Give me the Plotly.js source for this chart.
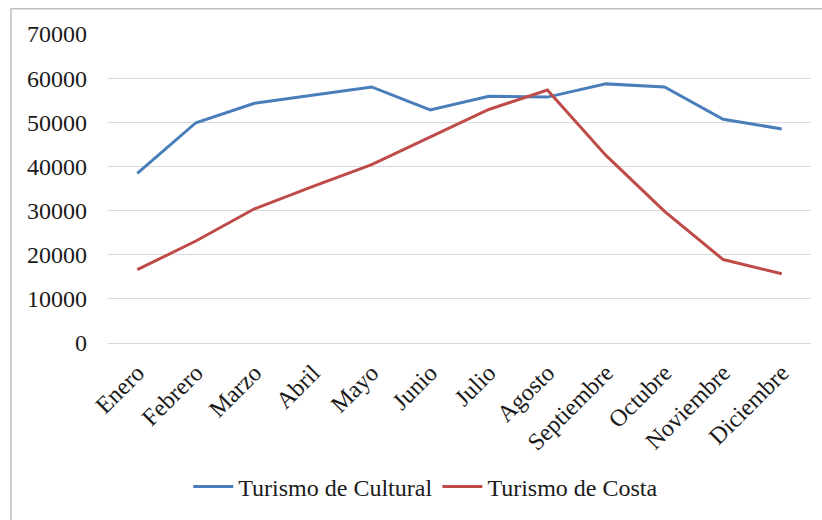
<!DOCTYPE html>
<html>
<head>
<meta charset="utf-8">
<script src="https://cdn.plot.ly/plotly-3.0.1.min.js"></script>
<style>
html, body { margin: 0; padding: 0; background: #ffffff; }
#chart { width: 822px; height: 520px; }
</style>
</head>
<body>
<div id="chart"></div>
<script>
var months = ["Enero", "Febrero", "Marzo", "Abril", "Mayo", "Junio", "Julio", "Agosto", "Septiembre", "Octubre", "Noviembre", "Diciembre"];
var cultural = [38400, 49900, 54300, 56100, 58000, 52800, 55900, 55700, 58700, 58000, 50700, 48500];
var costa = [16600, 23100, 30400, 35500, 40400, 46600, 52900, 57300, 42500, 29800, 18900, 15700];
var yTicks = [0, 10000, 20000, 30000, 40000, 50000, 60000, 70000];

var font = { family: "Liberation Serif", size: 24, color: "#1a1a1a" };

var traces = [
  { x: months, y: cultural, type: "scatter", mode: "lines", name: "Turismo de Cultural",
    line: { color: "#4A7EBB", width: 3 } },
  { x: months, y: costa, type: "scatter", mode: "lines", name: "Turismo de Costa",
    line: { color: "#BE4B48", width: 3 } }
];

var layout = {
  width: 822, height: 520,
  margin: { l: 108, r: 11, t: 34, b: 173 },
  paper_bgcolor: "#ffffff", plot_bgcolor: "#ffffff",
  font: font,
  showlegend: true,
  legend: { orientation: "h", x: 0.452, xanchor: "center", y: -0.466, yanchor: "middle",
            font: font, itemwidth: 40, tracegroupgap: 0 },
  xaxis: { type: "category", range: [-0.5, 11.5], showgrid: false, showline: false, zeroline: false,
           tickangle: -45, ticks: "", ticklabelstandoff: 10, tickfont: font, fixedrange: true },
  yaxis: { range: [0, 70000], tickvals: yTicks, ticktext: yTicks.map(String),
           showgrid: true, gridcolor: "#D9D9D9", gridwidth: 1,
           zeroline: true, zerolinecolor: "#D9D9D9", zerolinewidth: 1,
           showline: false, ticks: "", ticklabelstandoff: 20, tickfont: font, fixedrange: true },
  shapes: [
    { type: "rect", xref: "paper", yref: "paper", x0: -0.138, x1: 1.2, y0: -1, y1: 1.0815,
      line: { color: "#BFBFBF", width: 1.5 }, fillcolor: "rgba(0,0,0,0)", layer: "below" }
  ]
};

Plotly.newPlot("chart", traces, layout, { staticPlot: true, displayModeBar: false });
</script>
</body>
</html>
